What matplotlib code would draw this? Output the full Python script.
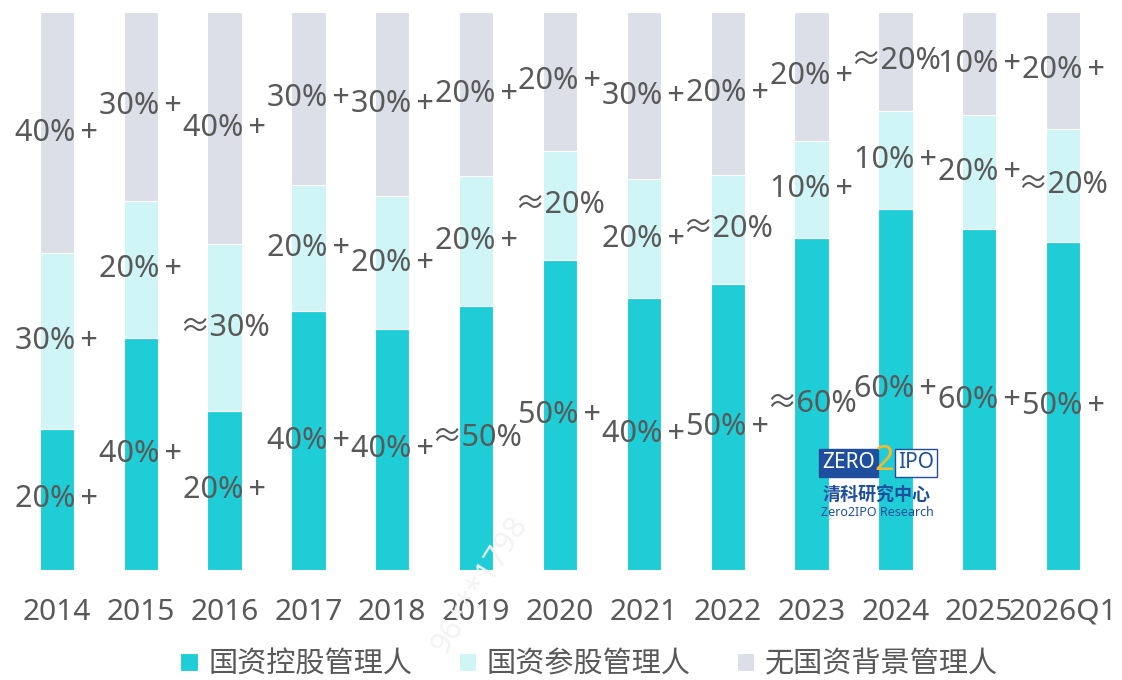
import matplotlib.pyplot as plt
import numpy as np

plt.rcParams['font.family'] = ['Noto Sans', 'Noto Sans CJK SC', 'DejaVu Sans']

years = ['2014', '2015', '2016', '2017', '2018', '2019', '2020',
         '2021', '2022', '2023', '2024', '2025', '2026Q1']

# 占比（%）
state_ctrl = [25.3, 41.6, 28.5, 46.4, 43.2, 47.3, 55.6, 48.7, 51.3, 59.5, 64.7, 61.1, 58.8]
state_part = [31.5, 24.6, 29.9, 22.6, 23.8, 23.3, 19.5, 21.3, 19.5, 17.4, 17.6, 20.4, 20.3]
no_state = [43.2, 33.8, 41.6, 31.0, 33.0, 29.4, 24.9, 30.0, 29.2, 23.1, 17.7, 18.5, 20.9]

ctrl_labels = ['20%+', '40%+', '20%+', '40%+', '40%+', '≈50%', '50%+',
               '40%+', '50%+', '≈60%', '60%+', '60%+', '50%+']
part_labels = ['30%+', '20%+', '≈30%', '20%+', '20%+', '20%+', '≈20%',
               '20%+', '≈20%', '10%+', '10%+', '20%+', '≈20%']
none_labels = ['40%+', '30%+', '40%+', '30%+', '30%+', '20%+', '20%+',
               '30%+', '20%+', '20%+', '≈20%', '10%+', '20%+']

series_names = ['国资控股管理人', '国资参股管理人', '无国资背景管理人']
colors = ['#1ECDD6', '#CFF5F6', '#DCDFE8']
text_color = '#595959'

fig = plt.figure(figsize=(11.22, 6.8), dpi=100)
ax = fig.add_axes([15 / 1122, 110 / 680, 1090 / 1122, 558 / 680])

x = np.arange(len(years))
bottom = np.zeros(len(years))
for vals, labels, color, name in zip([state_ctrl, state_part, no_state],
                                     [ctrl_labels, part_labels, none_labels],
                                     colors, series_names):
    vals = np.array(vals)
    ax.bar(x, vals, 0.41, bottom=bottom, color=color, edgecolor='white',
           linewidth=0.8, label=name)
    for xi, b, v, lab in zip(x, bottom, vals, labels):
        ax.text(xi, b + v / 2, lab.replace('+', '\u2009+'), ha='center',
                va='center', fontsize=22, color=text_color)
    bottom = bottom + vals

ax.set_xlim(-0.5, len(years) - 0.5)
ax.set_ylim(0, 100)
ax.set_xticks(x)
ax.set_xticklabels(years, fontsize=21.5, color=text_color)
ax.tick_params(axis='x', length=0, pad=20)
ax.set_yticks([])
for s in ax.spines.values():
    s.set_visible(False)

fig.legend(loc='center', bbox_to_anchor=(589 / 1122, 1 - 665 / 680), ncol=3,
           frameon=False, fontsize=21, handlelength=0.6, handleheight=0.6,
           handletextpad=0.35, columnspacing=1.6, labelcolor=text_color)

# 水印
fig.text(480 / 1122, 1 - 585 / 680, '96***1798', rotation=58, fontsize=22,
         color='#f3f3f3', ha='center', va='center')

# 清科 logo
fig.text(822 / 1122, 1 - 463 / 680, 'ZERO', fontsize=15, fontweight='bold',
         color='white', ha='left', va='center',
         bbox=dict(boxstyle='square,pad=0.15', fc='#1F4E9E', ec='#1F4E9E'))
fig.text(884 / 1122, 1 - 461 / 680, '2', fontsize=25, fontweight='bold',
         color='#F5B82E', ha='center', va='center')
fig.text(898 / 1122, 1 - 463 / 680, 'IPO', fontsize=15, color='#1F4E9E',
         ha='left', va='center',
         bbox=dict(boxstyle='square,pad=0.15', fc='white', ec='#1F4E9E', lw=1))
fig.text(877 / 1122, 1 - 496 / 680, '清科研究中心', fontsize=13, fontweight='bold',
         color='#1F4E9E', ha='center', va='center')
fig.text(877 / 1122, 1 - 512 / 680, 'Zero2IPO Research', fontsize=9,
         color='#1F4E9E', ha='center', va='center')

fig.savefig('out.png', dpi=100)
